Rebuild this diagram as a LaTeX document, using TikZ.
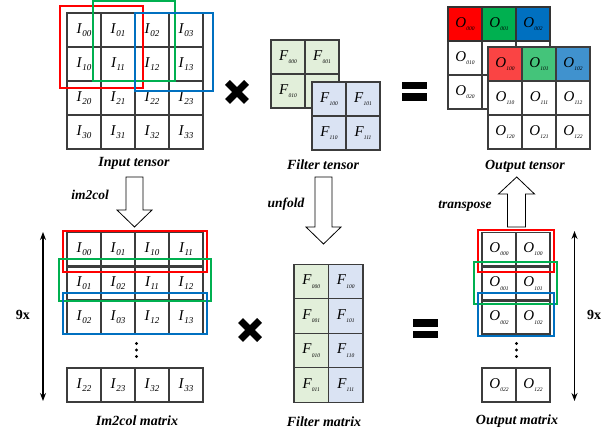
\documentclass[tikz,border=0pt]{standalone}
\usepackage{fontspec}
\setmainfont{Liberation Serif}
\usetikzlibrary{arrows.meta}
\definecolor{gridgray}{RGB}{60,60,60}
\definecolor{bred}{RGB}{255,0,0}
\definecolor{bgreen}{RGB}{0,176,80}
\definecolor{bblue}{RGB}{0,112,192}
\definecolor{fgreen}{RGB}{226,239,218}
\definecolor{fblue}{RGB}{218,227,243}
\definecolor{lred}{RGB}{250,68,68}
\definecolor{lgreen}{RGB}{68,196,122}
\definecolor{lblue}{RGB}{64,146,206}
\newcommand{\Ic}[1]{\textit{I}\raisebox{-0.45ex}{\fontsize{9}{9}\selectfont\textit{#1}}}
\newcommand{\Fc}[1]{\textit{F}\raisebox{-0.5ex}{\fontsize{5.5}{5.5}\selectfont\textit{#1}}}
\newcommand{\Oc}[1]{\textit{O}\raisebox{-0.5ex}{\fontsize{5.5}{5.5}\selectfont\textit{#1}}}
\tikzset{
  cell/.style={draw=gridgray, line width=1.3pt, minimum width=34pt, minimum height=34pt,
    inner sep=0pt, outer sep=0pt, font=\fontsize{15}{15}\selectfont},
  rowcell/.style={cell, minimum height=33pt},
  fcell/.style={cell, minimum width=34.5pt, minimum height=34.5pt},
  caption/.style={font=\fontsize{14}{14}\selectfont\bfseries\itshape, inner sep=0pt},
  oplabel/.style={font=\fontsize{13.5}{13.5}\selectfont\bfseries\itshape, inner sep=0pt},
  ninelabel/.style={font=\fontsize{14}{14}\selectfont\bfseries, inner sep=0pt},
  hbox/.style={line width=2pt},
  blockarrow/.style={draw=black, fill=white, line width=0.8pt, line join=miter},
  heavyx/.style={line width=7pt},
  dimarrow/.style={{Stealth[length=8pt,width=6pt]}-{Stealth[length=8pt,width=6pt]}, line width=1.3pt},
  dot/.style={circle, fill=black, inner sep=0pt, minimum size=3.2pt}
}
\begin{document}
\begin{tikzpicture}[x=1pt,y=-1pt]
\useasboundingbox (0,0) rectangle (613,435);

% ---------- Input tensor ----------
\foreach \r in {0,...,3}{
  \foreach \c in {0,...,3}{
    \node[cell] (in\r\c) at ({84+34*\c},{30+34*\r}) {\Ic{\r\c}};
  }
}
\draw[hbox, bred] (60,6) rectangle (143,88);
\draw[hbox, bgreen] (93,1) rectangle (175,81);
\draw[hbox, bblue] (135,13) rectangle (213,91);
\node[caption] (incap) at (134,163) {Input tensor};

% ---------- multiply sign (top) ----------
\coordinate (mx1) at (237,92);
\draw[heavyx] (mx1) ++(-9.5,-9.5) -- ++(19,19) (mx1) ++(-9.5,9.5) -- ++(19,-19);

% ---------- Filter tensor ----------
\node[cell, fill=fgreen] (fa00) at (288,57) {\Fc{000}};
\node[cell, fill=fgreen] (fa01) at (322,57) {\Fc{001}};
\node[cell, fill=fgreen] (fa10) at (288,91) {\Fc{010}};
\node[cell, fill=fgreen] (fa11) at (322,91) {};
\foreach \r in {0,1}{
  \foreach \c in {0,1}{
    \node[cell, fill=fblue] (fb\r\c) at ({329+34*\c},{99+34*\r}) {\Fc{1\r\c}};
  }
}
\node[caption] (fcap) at (323,165) {Filter tensor};

% ---------- equals sign (top) ----------
\fill (401.7,81.7) rectangle (426.7,89.3);
\fill (401.7,93.3) rectangle (426.7,101);

% ---------- Output tensor ----------
\node[cell] (oa10) at (465,58) {\Oc{010}};
\node[cell] (oa20) at (465,92) {\Oc{020}};
\node[cell] (oa11) at (499,58) {};
\node[cell] (oa21) at (499,92) {};
\node[cell] (oa12) at (533,58) {};
\node[cell] (oa22) at (533,92) {};
\foreach \c/\col in {0/bred,1/bgreen,2/bblue}{
  \node[cell, fill=\col, draw=black!80] (oa0\c) at ({465+34*\c},24) {\Oc{00\c}};
}
\foreach \r in {1,2}{
  \foreach \c in {0,1,2}{
    \node[cell, fill=white] (ob\r\c) at ({505+34*\c},{64+34*\r}) {\Oc{1\r\c}};
  }
}
\foreach \c/\col in {0/lred,1/lgreen,2/lblue}{
  \node[cell, fill=\col] (ob0\c) at ({505+34*\c},64) {\Oc{10\c}};
}
\node[caption] (ocap) at (525,166) {Output tensor};

% ---------- block arrows ----------
\draw[blockarrow] (126,177) -- (126,210) -- (117,210) -- (134.5,227) -- (152,210) -- (143,210) -- (143,177) -- cycle;
\node[oplabel] (lim2col) at (90,195) {im2col};
\draw[blockarrow] (315,177) -- (315,227) -- (306,227) -- (323.5,244) -- (341,227) -- (332,227) -- (332,177) -- cycle;
\node[oplabel] (lunfold) at (286,204) {unfold};
\draw[blockarrow] (507.5,227) -- (507.5,194) -- (498.5,194) -- (516.7,177) -- (534.5,194) -- (525.5,194) -- (525.5,227) -- cycle;
\node[oplabel] (ltransp) at (465,206) {transpose};

% ---------- Im2col matrix ----------
\foreach \r/\y/\pa/\pb/\pc/\pd in {1/249/00/01/10/11, 2/283.5/01/02/11/12, 3/317.5/02/03/12/13}{
  \node[rowcell] (im\r a) at (84,\y) {\Ic{\pa}};
  \node[rowcell] (im\r b) at (118,\y) {\Ic{\pb}};
  \node[rowcell] (im\r c) at (152,\y) {\Ic{\pc}};
  \node[rowcell] (im\r d) at (186,\y) {\Ic{\pd}};
}
\node[cell] (im4a) at (84,385) {\Ic{22}};
\node[cell] (im4b) at (118,385) {\Ic{23}};
\node[cell] (im4c) at (152,385) {\Ic{32}};
\node[cell] (im4d) at (186,385) {\Ic{33}};
\node[dot] (imd1) at (136.5,343.5) {};
\node[dot] (imd2) at (136.5,350) {};
\node[dot] (imd3) at (136.5,356.5) {};
\draw[hbox, bred] (63,231) rectangle (207,272);
\draw[hbox, bgreen] (59,259) rectangle (211,301);
\draw[hbox, bblue] (63,293) rectangle (207,334);
\coordinate (l9t) at (43,232);
\coordinate (l9b) at (43,401);
\draw[dimarrow] (l9t) -- (l9b);
\node[ninelabel] (l9) at (23,315) {9x};
\node[caption] (imcap) at (137,421) {Im2col matrix};

% ---------- multiply sign (bottom) ----------
\coordinate (mx2) at (250,330);
\draw[heavyx] (mx2) ++(-9.5,-9.5) -- ++(19,19) (mx2) ++(-9.5,9.5) -- ++(19,-19);

% ---------- Filter matrix ----------
\foreach \r/\lab in {0/000,1/001,2/010,3/011}{
  \node[fcell, fill=fgreen] (fm\r a) at (311.25,{281.5+34.5*\r}) {\Fc{\lab}};
}
\foreach \r/\lab in {0/100,1/101,2/110,3/111}{
  \node[fcell, fill=fblue] (fm\r b) at (345.75,{281.5+34.5*\r}) {\Fc{\lab}};
}
\node[caption] (fmcap) at (324,422) {Filter matrix};

% ---------- equals sign (bottom) ----------
\fill (412.7,319.3) rectangle (438,326.7);
\fill (412.7,330.7) rectangle (438,338.3);

% ---------- Output matrix ----------
\foreach \r/\y/\pa/\pb in {1/249/000/100, 2/283.5/001/101, 3/317.5/002/102}{
  \node[rowcell] (om\r a) at (499,\y) {\Oc{\pa}};
  \node[rowcell] (om\r b) at (533,\y) {\Oc{\pb}};
}
\node[cell] (om4a) at (499,385) {\Oc{022}};
\node[cell] (om4b) at (533,385) {\Oc{122}};
\node[dot] (omd1) at (516.5,343.5) {};
\node[dot] (omd2) at (516.5,350) {};
\node[dot] (omd3) at (516.5,356.5) {};
\draw[hbox, bred] (478,230) rectangle (554,272);
\draw[hbox, bgreen] (474,262) rectangle (557,304);
\draw[hbox, bblue] (478,293) rectangle (554,336);
\coordinate (r9t) at (574.5,231);
\coordinate (r9b) at (574.5,401);
\draw[dimarrow] (r9t) -- (r9b);
\node[ninelabel] (r9) at (594,315) {9x};
\node[caption] (omcap) at (517,421) {Output matrix};
\end{tikzpicture}
\end{document}
